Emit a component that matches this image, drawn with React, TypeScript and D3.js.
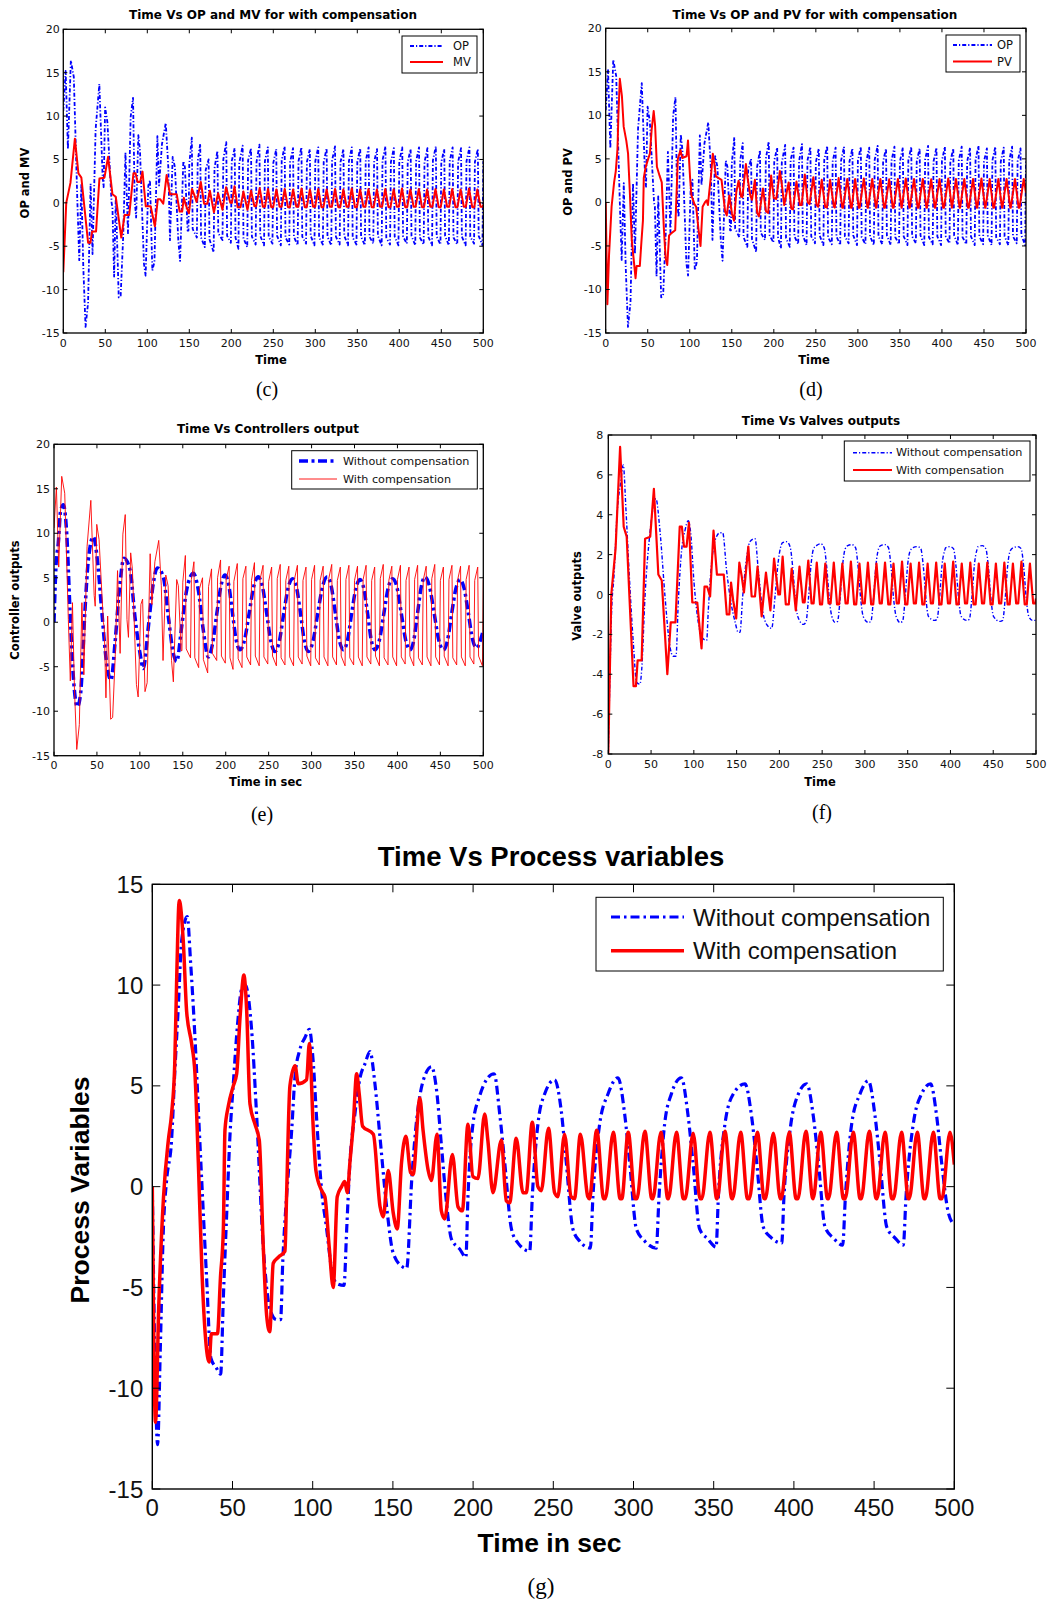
import React from "react";
import * as d3 from "d3";

type Pt = [number, number];

const xTickValues = [0, 50, 100, 150, 200, 250, 300, 350, 400, 450, 500];
const yTicks20 = [-15, -10, -5, 0, 5, 10, 15, 20];
const yTicks8 = [-8, -6, -4, -2, 0, 2, 4, 6, 8];
const yTicks15 = [-15, -10, -5, 0, 5, 10, 15];

// Controller output with compensation (OP)
const opWith: Pt[] = [
  [0, 10.6], [2.8, 15.2], [5.5, 6.2], [9, 16.4], [12.5, 14.5], [16.7, 0.3], [19, -6.6], [21.5, 2.2],
  [23.8, -7.4], [26.5, -14.3], [29.5, -11.5], [32.5, 2.2], [34.8, -5.9], [38.5, 8.5], [42.9, 13.7],
  [46.8, 3], [48, 1.8], [49.8, 11], [52.5, 9.3], [57.5, 0], [58.5, -0.5], [60.5, -8.5], [62.5, 0.7],
  [66, -10.9], [68.3, -10.7], [71.4, -3.6], [74, 5.8], [77, -3.5], [80.2, 9.9], [83, 12.1], [85, 0.3],
  [86.7, -1.7], [89.3, 7.8], [91.3, 6], [96, -7], [98, -8.4], [101.2, 2], [103.2, 2.6], [106, -7.8],
  [108.5, -6.8], [112, 7.7], [114, 2], [117.5, 6.8], [122, 9.2], [125, 4.1], [127, -4.3], [130.2, 5.3],
  [132.9, 4.1], [136.9, -4.3], [139, -6.7], [142.9, 4.8], [144.8, 4.1], [148, -3.2],
  [149, -3.2], [150, 4.5], [153, 7.5], [154, -3.0],
  [159, -4.0], [160, 4.8], [163, 6.8], [164, -4.0],
  [168.5, -5.1], [169.5, 3.8], [173, 5.0], [174, -4.2],
  [179, -5.7], [180, 4.0], [183.5, 6.0], [184.5, -3.5],
  [189.5, -4.3], [190.5, 5.0], [194, 7.0], [195, -3.8],
  [199.5, -4.6], [200.5, 4.8], [204, 6.3], [205, -4.0],
  [208.5, -5.3], [209.5, 4.6], [213.5, 6.6], [214.5, -4.1],
  [219, -5.1], [220, 4.9], [223.5, 6.3], [224.5, -3.9],
  [229, -4.8], [230, 4.7], [233.5, 6.7], [234.5, -3.8],
  [239, -4.9], [240, 4.8], [243.5, 6.4], [244.5, -3.9],
  [249, -4.7], [250, 4.6], [253.5, 6.2], [254.5, -3.8],
  [259, -4.9], [260, 4.9], [263.5, 6.5], [264.5, -4.0],
  [269, -4.8], [270, 4.7], [273.5, 6.3], [274.5, -3.9],
  [279, -4.9], [280, 4.8], [283.5, 6.4], [284.5, -3.9],
  [289, -4.7], [290, 4.7], [293.5, 6.2], [294.5, -3.8],
  [299, -4.9], [300, 4.8], [303.5, 6.4], [304.5, -4.0],
  [309, -4.8], [310, 4.7], [313.5, 6.3], [314.5, -3.9],
  [319, -4.9], [320, 4.9], [323.5, 6.5], [324.5, -3.9],
  [329, -4.8], [330, 4.7], [333.5, 6.2], [334.5, -3.8],
  [339, -4.9], [340, 4.8], [343.5, 6.4], [344.5, -4.0],
  [349, -4.8], [350, 4.7], [353.5, 6.3], [354.5, -3.9],
  [359, -4.9], [360, 4.8], [363.5, 6.4], [364.5, -3.9],
  [369, -4.7], [370, 4.7], [373.5, 6.2], [374.5, -3.8],
  [379, -4.9], [380, 4.9], [383.5, 6.5], [384.5, -4.0],
  [389, -4.8], [390, 4.7], [393.5, 6.3], [394.5, -3.9],
  [399, -4.9], [400, 4.8], [403.5, 6.4], [404.5, -3.9],
  [409, -4.7], [410, 4.7], [413.5, 6.2], [414.5, -3.8],
  [419, -4.9], [420, 4.8], [423.5, 6.4], [424.5, -4.0],
  [429, -4.8], [430, 4.7], [433.5, 6.3], [434.5, -3.9],
  [439, -4.9], [440, 4.9], [443.5, 6.5], [444.5, -3.9],
  [449, -4.8], [450, 4.7], [453.5, 6.2], [454.5, -3.8],
  [459, -4.9], [460, 4.8], [463.5, 6.4], [464.5, -4.0],
  [469, -4.8], [470, 4.7], [473.5, 6.3], [474.5, -3.9],
  [479, -4.9], [480, 4.8], [483.5, 6.4], [484.5, -3.9],
  [489, -4.7], [490, 4.7], [493.5, 6.2], [494.5, -3.8],
  [499, -4.9], [500, 4.8],
];

// Valve output (MV) with compensation
const mvWith: Pt[] = [
  [0, -8], [3.5, 0], [8.5, 2.3], [13.8, 7.4], [18, 3.4], [21.5, 2.9], [29.5, -4.6], [32.3, -4.6],
  [34.3, -3.3], [39, -3.3], [43, 2.8], [49, 2.9], [53.3, 5.3], [58.5, 1.0], [62.5, 0.7], [69, -4.0],
  [73, -1.4], [78.5, -1.4], [83.5, 3.4], [86, 3.4], [88.5, 2.4], [91.5, 2.4], [94.3, 3.6], [98.2, -0.4],
  [104, -0.4], [109, -2.7], [112.5, 0.4], [115.5, 0.4], [119, -0.1], [123, 3.2], [127, 1.0], [135, 1.0],
  [138.5, -1.0], [141.5, -1.0], [143.5, 0.6], [146, -0.3], [149.5, -1.2], [153.2, 1.6], [156, 0.9],
  [158.6, 0.1], [163.7, 2.4], [167.6, -0.1], [171.5, -0.1], [174.5, 1.4], [179.3, -1.1], [184.3, 1.1],
  [189.5, -0.8], [193.8, 1.8], [198.8, 0], [200.7, 0], [203.8, 1.9], [207.5, -0.5], [211, -0.5],
  [214.4, 1.3], [219.2, -0.8], [223.5, 1.4], [227.5, -0.4], [229.5, -0.4],
  [233.8, 1.7], [237.6, -0.45], [240, -0.45], [243.7, 1.6], [247.5, -0.5], [249.9, -0.5],
  [253.7, 1.55], [257.5, -0.45], [259.9, -0.45], [263.6, 1.6], [267.4, -0.5], [269.8, -0.5],
  [273.6, 1.55], [277.4, -0.45], [279.8, -0.45], [283.6, 1.65], [287.4, -0.5], [289.8, -0.5],
  [293.6, 1.55], [297.4, -0.45], [299.8, -0.45], [303.5, 1.6], [307.3, -0.5], [309.7, -0.5],
  [313.5, 1.55], [317.3, -0.45], [319.7, -0.45], [323.5, 1.6], [327.3, -0.5], [329.7, -0.5],
  [333.4, 1.55], [337.2, -0.45], [339.6, -0.45], [343.4, 1.65], [347.2, -0.5], [349.6, -0.5],
  [353.4, 1.55], [357.2, -0.45], [359.6, -0.45], [363.3, 1.6], [367.1, -0.5], [369.5, -0.5],
  [373.3, 1.55], [377.1, -0.45], [379.5, -0.45], [383.3, 1.6], [387.1, -0.5], [389.5, -0.5],
  [393.3, 1.55], [397.1, -0.45], [399.5, -0.45], [403.2, 1.65], [407, -0.5], [409.4, -0.5],
  [413.2, 1.55], [417, -0.45], [419.4, -0.45], [423.2, 1.6], [427, -0.5], [429.4, -0.5],
  [433.1, 1.55], [436.9, -0.45], [439.3, -0.45], [443.1, 1.6], [446.9, -0.5], [449.3, -0.5],
  [453.1, 1.55], [456.9, -0.45], [459.3, -0.45], [463, 1.6], [466.8, -0.5], [469.2, -0.5],
  [473, 1.55], [476.8, -0.45], [479.2, -0.45], [483, 1.65], [486.8, -0.5], [489.2, -0.5],
  [492.9, 1.55], [496.7, -0.45], [499.1, -0.45], [500, -0.2],
];

// Process variable with compensation (PV)
const pvWith: Pt[] = [
  [0, 0], [2, -11.7], [4, -6], [7, -0.5], [10, 2.3], [12, 3.6], [14, 6.1], [15.2, 10.3], [16.8, 14.2],
  [19.3, 12.2], [21.4, 8.7], [24.5, 7.1], [26.6, 5.6], [28.7, 1.2], [31, -4.3], [35.5, -8.7], [36.8, -7.3],
  [40.6, -7.3], [42.5, -4.5], [44.3, -2.1], [45.3, 2.8], [47.4, 4.0], [50.5, 5.0], [52.6, 5.6], [54.7, 8.4],
  [57.1, 10.5], [58.8, 8.8], [60.9, 4.1], [64, 3.1], [66.7, 2.3], [69.2, -3], [71.3, -6.4], [73.2, -7.2],
  [75.4, -3.8], [78.6, -3.5], [82.7, -3.2], [83.7, -0.5], [85.8, 5.0], [89, 6.0], [91, 5.1], [96.2, 5.3],
  [97.9, 7.1], [100.4, 2.8], [102, 0.8], [105.6, -0.2], [107.6, -0.5], [110.3, -3], [112.8, -5.0],
  [115.3, -0.5], [118, 0], [120, 0.25], [121.6, -0.3], [123.2, 1.2], [125.3, 3.1], [127.4, 5.6], [129, 4.6],
  [131.1, 3.0], [137.8, 2.6], [142, -1.0], [144, -1.5], [147.1, 0.8], [150.2, -1.3], [152.7, -2.1],
  [155.4, 1.2], [158.1, 2.5], [161, 0.7], [162.6, 0.6], [166.8, 4.4], [168.8, 2.8], [172, 0.8], [174, 0.3],
  [177.5, 2.6], [180.2, -1.2], [182.3, -1.6], [187.1, 1.6], [190.6, -1.0], [193.3, -1.2], [196.8, 3.1],
  [199.9, 0.5], [203, 0.4], [207.2, 3.6], [209.2, 2.3], [212.4, -0.3], [217.6, 2.3], [220.7, -0.7],
  [222.8, -0.8], [226.9, 2.4], [231.1, -0.3], [233.1, -0.3], [236.9, 3.2], [240.4, 0], [242.5, -0.2],
  [247, 2.9], [250.8, -0.3], [252.8, -0.5], [257, 2.6], [261.1, -0.5], [263.2, -0.6], [266.9, 2.6],
  [271.5, -0.5], [272.5, -0.6], [277.1, 2.8], [281.4, -0.6], [282.4, -0.6], [287.4, 2.7], [291.7, -0.6],
  [292.7, -0.6], [296.7, 2.7], [301, -0.6], [302.1, -0.6], [307.1, 2.75], [311.4, -0.6], [312.1, -0.6],
  [317.1, 2.7], [321.4, -0.6], [321.8, -0.6], [326.8, 2.7], [331.1, -0.6], [332.2, -0.6], [337.2, 2.65],
  [341.5, -0.6], [342.6, -0.6], [347.6, 2.7], [351.9, -0.6], [352.2, -0.6], [357, 2.75], [361.3, -0.6],
  [361.8, -0.6], [366.8, 2.7], [371.1, -0.6], [372.2, -0.6], [377.2, 2.7], [381.5, -0.6], [382.2, -0.6],
  [387.2, 2.65], [391.5, -0.6], [392.1, -0.6], [397.1, 2.7], [401.4, -0.6], [402.5, -0.6], [407.5, 2.75],
  [411.8, -0.6], [412, -0.6], [416.7, 2.7], [421, -0.6], [421.6, -0.6], [426.6, 2.7], [430.9, -0.6],
  [432, -0.6], [437, 2.7], [441.3, -0.6], [442, -0.6], [447, 2.75], [451.3, -0.6], [451.8, -0.6],
  [456.8, 2.7], [461.1, -0.6], [462.1, -0.6], [467.1, 2.7], [471.4, -0.6], [471.9, -0.6], [476.9, 2.7],
  [481.2, -0.6], [481.9, -0.6], [486.9, 2.7], [491.2, -0.6], [492.3, -0.6], [497.3, 2.7], [500, 1.1],
];

// Controller output without compensation
const coWithout: Pt[] = [
  [0, 0], [2.3, 6.3], [5, 8.9], [7.8, 12.6], [10.9, 13.2], [14.8, 10], [18.6, 1.4], [22.5, -6.1],
  [27.2, -9.5], [31, -8], [36.1, 1.4], [40, 7], [45.8, 9.6], [50.5, 7], [55.5, 1.4], [61.3, -4.6],
  [66.4, -6.5], [71, -2.4], [76.1, 3.6], [81.5, 7.2], [88.5, 5.9], [94.3, 0.6], [100.2, -3.5], [104, -5.2],
  [109.9, -0.5], [115.7, 4.4], [120.3, 6.1], [127.3, 5.1], [133.2, 0.6], [139, -3.5], [142.9, -4.4],
  [148.7, -0.5], [154.5, 3.6], [162.3, 5.5], [168.1, 3.6], [173.9, -0.9], [179.7, -3.9],
  [184.5, -2.5], [189.4, 0.8], [194.3, 4.0], [199.1, 5.3], [203.5, 4.2], [207.9, 1.0], [212.2, -2.0], [216.6, -3.1],
  [221.9, -2.0], [227.3, 1.0], [232.6, 4.0], [237.9, 5.1], [242.8, 4.0], [247.7, 1.0], [252.5, -2.1], [257.4, -3.3],
  [262.5, -2.1], [267.6, 1.0], [272.8, 3.9], [277.9, 4.9], [282.5, 3.9], [287.1, 1.0], [291.6, -2.1], [296.2, -3.3],
  [301.7, -2.1], [307.2, 1.0], [312.8, 4.0], [318.3, 5.1], [323, 4.0], [327.7, 1.0], [332.3, -2.0], [337, -3.1],
  [341.9, -2.0], [346.7, 1.0], [351.6, 3.8], [356.4, 4.8], [360.8, 3.8], [365.2, 1.0], [369.5, -2.0], [373.9, -3.1],
  [379, -2.0], [384.2, 1.0], [389.3, 3.9], [394.4, 4.9], [399.5, 3.9], [404.5, 1.0], [409.6, -2.0], [414.7, -3.1],
  [419.1, -2.0], [423.4, 1.0], [427.8, 4.0], [432.1, 5.1], [437.4, 4.0], [442.8, 1.0], [448.1, -2.0], [453.5, -3.1],
  [458.4, -2.0], [463.2, 1.0], [468.1, 3.8], [472.9, 4.8], [477.7, 3.8], [482.6, 1.0], [487.4, -1.9], [492.3, -2.9],
  [496, -2.2], [500, -0.9],
];

// Valve output without compensation
const valveWithout: Pt[] = [
  [0, -7.95], [1.9, -4.1], [3.9, -0.8], [6.6, 0.9], [10.5, 4.2], [14.4, 5.6], [17.5, 6.5], [20.7, 4.2],
  [24.6, 0.9], [29.2, -2.4], [33.1, -4.4], [37, -4.5], [39, -3.8], [42.9, -0.1], [48.7, 3.1], [52.6, 4.4],
  [55.7, 4.8], [60.4, 3.2], [66.3, -0.1], [71.3, -2.4], [76, -3.1], [79.1, -3.1], [81.8, -0.4], [85.7, 2.2],
  [89.6, 3.2], [93.5, 3.7], [96.3, 3.1], [100.2, 0.6], [105.2, -1.4], [110.3, -2.2], [115, -2.3],
  [116.9, -0.8], [120.8, 1.6], [124.7, 2.7], [130.6, 3.1], [133.7, 3.1], [138.3, 1.2], [143, -0.3],
  [148.1, -1.35], [152, -1.9], [153.9, -1.9], [157.1, -0.1], [161, 1.6], [165.6, 2.65], [171.5, 2.8],
  [175.4, 1.2], [180.4, -0.8], [185.1, -1.5], [191, -1.7], [194.9, -0.1], [198.8, 1.7], [203.8, 2.6],
  [208.5, 2.65], [212.5, 2.4], [215.5, 1.4], [218.5, -0.2], [221.5, -1.1], [228, -1.5], [231, -1.4],
  [234, -0.2], [237, 1.5], [240, 2.3], [243.3, 2.45], [248.3, 2.55], [252.3, 2.35], [255.3, 1.4],
  [258.3, -0.2], [261.3, -1.1], [265, -1.4], [268, -1.35], [271, -0.2], [274, 1.5], [277, 2.3], [280, 2.45],
  [285, 2.5], [289, 2.35], [292, 1.4], [295, -0.2], [298, -1.1], [304, -1.4], [307, -1.35], [310, -0.2],
  [313, 1.5], [316, 2.3], [318.5, 2.45], [323.5, 2.5], [327.5, 2.35], [330.5, 1.4], [333.5, -0.2],
  [336.5, -1.1], [341, -1.4], [344, -1.35], [347, -0.2], [350, 1.5], [353, 2.2], [356.3, 2.35], [361.3, 2.4],
  [365.3, 2.3], [368.3, 1.4], [371.3, -0.2], [374.3, -1.1], [381.2, -1.3], [384.2, -1.25], [387.2, -0.2],
  [390.2, 1.5], [393.2, 2.2], [394.5, 2.35], [399.5, 2.4], [403.5, 2.3], [406.5, 1.4], [409.5, -0.2],
  [412.5, -1.1], [419, -1.3], [422, -1.25], [425, -0.2], [428, 1.5], [431, 2.25], [432.3, 2.4],
  [437.3, 2.45], [441.3, 2.3], [444.3, 1.4], [447.3, -0.2], [450.3, -1.1], [458, -1.35], [461, -1.3],
  [464, -0.2], [467, 1.5], [470, 2.2], [473.6, 2.35], [478.6, 2.4], [482.6, 2.3], [485.6, 1.4],
  [488.6, -0.2], [491.6, -1.1], [496, -1.3], [500, -1.3],
];

// Process variable without compensation
const pvWithout: Pt[] = [
  [0, 0], [1.5, -8], [3.3, -12.8], [5, -8], [6.9, -2.1], [8.9, 0.3], [12, 2.3], [14.1, 5.8], [16.2, 8.9],
  [18.3, 12.2], [21.8, 13.4], [23.9, 11.1], [26.6, 7.4], [29.3, 2.8], [31.8, -1.3], [33.9, -4.6],
  [36.5, -8.5], [40, -9], [42.6, -9.3], [44.3, -5.5], [46.3, -1.5], [48.4, 2.5], [50.5, 5.1], [53.2, 8.1],
  [55.7, 9.8], [58, 10], [61.9, 7.8], [65, 3.6], [69.2, -3.0], [73.4, -6.1], [77.5, -6.6], [80, -6.6],
  [81.3, -3.8], [83.7, -0.5], [86.9, 2.8], [89, 5.5], [92, 6.8], [95.2, 7.4], [97.9, 7.8], [100.4, 6.1],
  [102.5, 3.3], [105.6, -0.2], [108.7, -2.1], [111.8, -4.1], [114.9, -4.8], [119.5, -4.9], [121.2, -2.1],
  [123.2, 1.2], [126.3, 3.6], [129.5, 5.4], [132.6, 6.1], [135.7, 6.7], [138.8, 5.1], [141.9, 2.5],
  [146.1, -1.0], [150.2, -3.3], [156.5, -4.0], [158.6, -4.05], [161.7, 0.3], [164.8, 3.3], [166.8, 4.5],
  [169.9, 5.5], [174.1, 5.95], [177.2, 4.8], [180.3, 2.0], [183.4, -0.8], [186.5, -2.6], [191.7, -3.1],
  [195.5, -3.5], [196.8, -0.5], [199.9, 3.1], [204.1, 4.5], [208.3, 5.3], [213.1, 5.6], [216.6, 3.6],
  [219.7, 1.2], [223.9, -2.1], [228, -2.8], [235.3, -3.2], [236.9, -0.5], [240.4, 3.1], [244.6, 4.6],
  [250.8, 5.3], [254.9, 3.8], [258.1, 1.2], [262.2, -2.1], [266.4, -2.7], [273.1, -3.05], [274.7, -0.5],
  [278.9, 3.1], [284.1, 4.6], [290.3, 5.4], [294.5, 3.6], [297.6, 1.2], [301.8, -2.1], [307, -2.7],
  [314.2, -3.05], [315.9, -0.5], [319.4, 3.1], [323.6, 4.6], [329.8, 5.4], [333.9, 3.6], [337.1, 1.2],
  [341.2, -2.1], [346.4, -2.6], [351.5, -3.0], [352.9, -0.5], [357, 3.1], [362.2, 4.6], [369.5, 5.1],
  [373.6, 3.5], [376.8, 1.2], [380.9, -2.0], [386.1, -2.55], [392.4, -2.8], [393.8, -0.5], [397.6, 2.8],
  [402.8, 4.6], [408, 5.1], [412.1, 3.5], [415.3, 1.2], [419.4, -2.0], [424.6, -2.55], [430.4, -2.9],
  [432.1, -0.5], [436, 3.1], [441.2, 4.6], [446.4, 5.25], [450.6, 3.5], [453.7, 1.2], [457.9, -2.0],
  [463.1, -2.55], [468.2, -2.9], [469.9, -0.5], [474.4, 3.1], [479.6, 4.6], [485.2, 5.1], [489, 3.5],
  [492.1, 1.2], [496.3, -1.3], [500, -1.9],
];

const BLUE = "#0000ff";
const RED = "#ff0000";

interface SeriesCfg {
  data: Pt[];
  color: string;
  width: number;
  dash?: string;
  smooth?: boolean;
  label: string;
  legendY: number;
}

interface PanelCfg {
  id: string;
  left: number; right: number; top: number; bottom: number;
  yDomain: [number, number];
  yTicks: number[];
  font: string;
  tickFont: number;
  tickLen: number;
  xLabelDy: number;
  yLabelDx: number;
  yLabelDy: number;
  frameWidth: number;
  title: string; titleX: number; titleY: number; titleSize: number;
  xlabel: string; xlabelX: number; xlabelY: number; labelSize: number;
  ylabel: string; ylabelX: number; ylabelY: number;
  caption: string; captionX: number; captionY: number; captionSize: number;
  legend: { x0: number; y0: number; x1: number; y1: number; lx0: number; lx1: number; tx: number; size: number };
  series: SeriesCfg[];
}

function Panel({ p }: { p: PanelCfg }) {
  const x = d3.scaleLinear().domain([0, 500]).range([p.left, p.right]);
  const y = d3.scaleLinear().domain(p.yDomain).range([p.bottom, p.top]);
  const clipId = `clip-${p.id}`;
  return (
    <g>
      <defs>
        <clipPath id={clipId}>
          <rect x={p.left} y={p.top} width={p.right - p.left} height={p.bottom - p.top} />
        </clipPath>
      </defs>
      <g clipPath={`url(#${clipId})`}>
        {p.series.map((s, i) => {
          const line = d3
            .line<Pt>()
            .x((d) => x(d[0]))
            .y((d) => y(d[1]))
            .curve(s.smooth ? d3.curveMonotoneX : d3.curveLinear);
          return (
            <path
              key={i}
              d={line(s.data) || ""}
              fill="none"
              stroke={s.color}
              strokeWidth={s.width}
              strokeDasharray={s.dash}
              strokeLinejoin="round"
            />
          );
        })}
      </g>
      {xTickValues.map((t) => (
        <g key={`xt${t}`}>
          <line x1={x(t)} x2={x(t)} y1={p.bottom} y2={p.bottom - p.tickLen} stroke="#000" strokeWidth={1} />
          <line x1={x(t)} x2={x(t)} y1={p.top} y2={p.top + p.tickLen} stroke="#000" strokeWidth={1} />
          <text x={x(t)} y={p.bottom + p.xLabelDy} textAnchor="middle" fontFamily={p.font} fontSize={p.tickFont} fill="#111">
            {t}
          </text>
        </g>
      ))}
      {p.yTicks.map((t) => (
        <g key={`yt${t}`}>
          <line x1={p.left} x2={p.left + p.tickLen} y1={y(t)} y2={y(t)} stroke="#000" strokeWidth={1} />
          <line x1={p.right} x2={p.right - p.tickLen} y1={y(t)} y2={y(t)} stroke="#000" strokeWidth={1} />
          <text x={p.left - p.yLabelDx} y={y(t) + p.yLabelDy} textAnchor="end" fontFamily={p.font} fontSize={p.tickFont} fill="#111">
            {t}
          </text>
        </g>
      ))}
      <rect x={p.left} y={p.top} width={p.right - p.left} height={p.bottom - p.top} fill="none" stroke="#000" strokeWidth={p.frameWidth} />
      <text x={p.titleX} y={p.titleY} textAnchor="middle" fontFamily={p.font} fontWeight="bold" fontSize={p.titleSize}>
        {p.title}
      </text>
      <text x={p.xlabelX} y={p.xlabelY} textAnchor="middle" fontFamily={p.font} fontWeight="bold" fontSize={p.labelSize}>
        {p.xlabel}
      </text>
      <text
        transform={`translate(${p.ylabelX},${p.ylabelY}) rotate(-90)`}
        textAnchor="middle"
        dominantBaseline="central"
        fontFamily={p.font}
        fontWeight="bold"
        fontSize={p.labelSize}
      >
        {p.ylabel}
      </text>
      <text x={p.captionX} y={p.captionY} textAnchor="middle" fontFamily="'Liberation Serif', 'Times New Roman', serif" fontSize={p.captionSize}>
        {p.caption}
      </text>
      <rect x={p.legend.x0} y={p.legend.y0} width={p.legend.x1 - p.legend.x0} height={p.legend.y1 - p.legend.y0} fill="#fff" stroke="#000" strokeWidth={1} />
      {p.series.map((s, i) => (
        <g key={`lg${i}`}>
          <line x1={p.legend.lx0} x2={p.legend.lx1} y1={s.legendY} y2={s.legendY} stroke={s.color} strokeWidth={s.width} strokeDasharray={s.dash} />
          <text x={p.legend.tx} y={s.legendY} dominantBaseline="central" fontFamily={p.font} fontSize={p.legend.size} fill="#111">
            {s.label}
          </text>
        </g>
      ))}
    </g>
  );
}

const SMALL = "'DejaVu Sans', Verdana, sans-serif";
const BIG = "'Liberation Sans', Arial, sans-serif";

const panels: PanelCfg[] = [
  {
    id: "c", left: 63.3, right: 483.3, top: 29.3, bottom: 333, yDomain: [-15, 20], yTicks: yTicks20,
    font: SMALL, tickFont: 11, tickLen: 4, xLabelDy: 14, yLabelDx: 3.5, yLabelDy: 4, frameWidth: 1.3,
    title: "Time Vs OP and MV for with compensation", titleX: 273, titleY: 19, titleSize: 12,
    xlabel: "Time", xlabelX: 271, xlabelY: 364, labelSize: 11.5,
    ylabel: "OP and MV", ylabelX: 25, ylabelY: 183,
    caption: "(c)", captionX: 267, captionY: 396, captionSize: 20,
    legend: { x0: 402, y0: 36, x1: 477, y1: 73, lx0: 410, lx1: 443, tx: 453, size: 11.5 },
    series: [
      { data: opWith, color: BLUE, width: 1.8, dash: "4,2,1.2,2", label: "OP", legendY: 46 },
      { data: mvWith, color: RED, width: 2, label: "MV", legendY: 62 },
    ],
  },
  {
    id: "d", left: 605.7, right: 1026, top: 28.3, bottom: 333, yDomain: [-15, 20], yTicks: yTicks20,
    font: SMALL, tickFont: 11, tickLen: 4, xLabelDy: 14, yLabelDx: 4, yLabelDy: 4, frameWidth: 1.3,
    title: "Time Vs OP and PV for with compensation", titleX: 815, titleY: 19, titleSize: 12,
    xlabel: "Time", xlabelX: 814, xlabelY: 364, labelSize: 11.5,
    ylabel: "OP and PV", ylabelX: 568, ylabelY: 182,
    caption: "(d)", captionX: 811, captionY: 396, captionSize: 20,
    legend: { x0: 946, y0: 35, x1: 1020, y1: 72, lx0: 953, lx1: 992, tx: 997, size: 11.5 },
    series: [
      { data: opWith, color: BLUE, width: 1.8, dash: "4,2,1.2,2", label: "OP", legendY: 45 },
      { data: pvWith, color: RED, width: 2, label: "PV", legendY: 61.5 },
    ],
  },
  {
    id: "e", left: 54, right: 483.3, top: 444.3, bottom: 755.7, yDomain: [-15, 20], yTicks: yTicks20,
    font: SMALL, tickFont: 11, tickLen: 4, xLabelDy: 13.5, yLabelDx: 4, yLabelDy: 4, frameWidth: 1.3,
    title: "Time Vs Controllers output", titleX: 268, titleY: 433, titleSize: 12,
    xlabel: "Time in sec", xlabelX: 265.5, xlabelY: 786, labelSize: 11.5,
    ylabel: "Controller outputs", ylabelX: 15, ylabelY: 600,
    caption: "(e)", captionX: 262, captionY: 821, captionSize: 20,
    legend: { x0: 291.7, y0: 450.7, x1: 477.3, y1: 489, lx0: 299, lx1: 337, tx: 343, size: 11.2 },
    series: [
      { data: coWithout, color: BLUE, width: 3.5, dash: "9,3.5,3,3.5", smooth: true, label: "Without compensation", legendY: 461 },
      { data: opWith, color: RED, width: 0.9, label: "With compensation", legendY: 479 },
    ],
  },
  {
    id: "f", left: 608.3, right: 1036, top: 435, bottom: 754, yDomain: [-8, 8], yTicks: yTicks8,
    font: SMALL, tickFont: 11, tickLen: 4, xLabelDy: 14, yLabelDx: 5, yLabelDy: 4, frameWidth: 1.3,
    title: "Time Vs Valves outputs", titleX: 821, titleY: 425, titleSize: 12,
    xlabel: "Time", xlabelX: 820, xlabelY: 786, labelSize: 11.5,
    ylabel: "Valve outputs", ylabelX: 576.7, ylabelY: 596,
    caption: "(f)", captionX: 822, captionY: 819, captionSize: 20,
    legend: { x0: 844.3, y0: 441, x1: 1030, y1: 481, lx0: 853, lx1: 892, tx: 896, size: 11.2 },
    series: [
      { data: valveWithout, color: BLUE, width: 1.4, dash: "4,2,1.2,2", smooth: true, label: "Without compensation", legendY: 452.7 },
      { data: mvWith, color: RED, width: 2.2, label: "With compensation", legendY: 470 },
    ],
  },
  {
    id: "g", left: 152.3, right: 954.3, top: 884.3, bottom: 1489, yDomain: [-15, 15], yTicks: yTicks15,
    font: BIG, tickFont: 24, tickLen: 8, xLabelDy: 26.5, yLabelDx: 9, yLabelDy: 8.5, frameWidth: 1.4,
    title: "Time Vs Process variables", titleX: 551, titleY: 866, titleSize: 27.5,
    xlabel: "Time in sec", xlabelX: 549.5, xlabelY: 1552, labelSize: 26.5,
    ylabel: "Process Variables", ylabelX: 80, ylabelY: 1190,
    caption: "(g)", captionX: 541, captionY: 1594, captionSize: 23,
    legend: { x0: 596, y0: 897.3, x1: 943.3, y1: 971, lx0: 611, lx1: 684, tx: 693, size: 24 },
    series: [
      { data: pvWithout, color: BLUE, width: 3.2, dash: "9,4,2.5,4", smooth: true, label: "Without compensation", legendY: 917 },
      { data: pvWith, color: RED, width: 3.5, smooth: true, label: "With compensation", legendY: 950.7 },
    ],
  },
];

export default function App() {
  return (
    <svg
      width={1048}
      height={1600}
      viewBox="0 0 1048 1600"
      style={{ position: "absolute", left: 0, top: 0, background: "#fff" }}
    >
      <rect x={0} y={0} width={1048} height={1600} fill="#fff" />
      {panels.map((p) => (
        <Panel key={p.id} p={p} />
      ))}
    </svg>
  );
}
